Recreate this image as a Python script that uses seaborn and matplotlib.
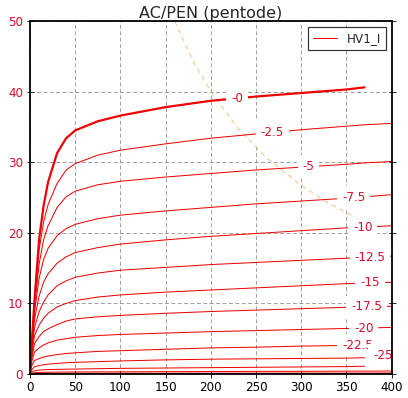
import numpy as np
import pandas as pd
import matplotlib
matplotlib.use("Agg")
import matplotlib.pyplot as plt
from matplotlib.lines import Line2D
import seaborn as sns

# plate voltage grid (V) shared by all curves
VA = [0, 2, 5, 10, 15, 20, 30, 40, 50, 75, 100, 150, 200, 250, 300, 350, 370, 400]
nan = np.nan

# plate current (mA) per grid voltage
IA_G0 = [0, 4.5, 10.5, 19, 23.8, 27.2, 31.3, 33.4, 34.5, 35.8, 36.6, 37.8, 38.7, 39.3, 39.8, 40.3, 40.6, nan]
IA_G2_5 = [0, 4.3, 10, 17.5, 21.5, 24, 27, 28.9, 29.8, 31, 31.7, 32.6, 33.4, 34, 34.6, 35.1, 35.3, 35.5]
IA_G5 = [0, 4, 9.5, 15.5, 19, 21, 23.6, 25.1, 25.9, 26.8, 27.3, 27.9, 28.4, 28.9, 29.3, 29.7, 29.9, 30.1]
IA_G7_5 = [0, 3.8, 8.8, 13.5, 16.2, 17.8, 19.6, 20.6, 21.2, 22.0, 22.5, 23.1, 23.6, 24.1, 24.5, 24.9, 25.1, 25.4]
IA_G10 = [0, 3.5, 7.8, 11, 13, 14.2, 15.7, 16.6, 17.2, 17.9, 18.4, 19.0, 19.5, 19.9, 20.3, 20.7, 20.8, 21.0]
IA_G12_5 = [0, 3.2, 6.6, 8.8, 10.2, 11.2, 12.5, 13.2, 13.7, 14.3, 14.7, 15.1, 15.5, 15.8, 16.1, 16.4, 16.5, 16.7]
IA_G15 = [0, 2.8, 5.4, 6.9, 7.9, 8.6, 9.5, 10.0, 10.4, 10.9, 11.2, 11.6, 11.9, 12.2, 12.5, 12.8, 12.9, 13.0]
IA_G17_5 = [0, 2.3, 4.3, 5.3, 6.0, 6.4, 7.0, 7.5, 7.8, 8.1, 8.3, 8.6, 8.85, 9.05, 9.25, 9.45, 9.5, 9.6]
IA_G20 = [0, 1.8, 3.1, 3.7, 4.1, 4.4, 4.8, 5.0, 5.2, 5.45, 5.6, 5.8, 6.0, 6.15, 6.3, 6.45, 6.5, 6.6]
IA_G22_5 = [0, 1.2, 1.9, 2.2, 2.4, 2.55, 2.75, 2.9, 3.0, 3.2, 3.3, 3.5, 3.7, 3.8, 3.95, 4.05, 4.1, 4.2]
IA_G25 = [0, 0.6, 1.0, 1.2, 1.3, 1.4, 1.5, 1.6, 1.65, 1.75, 1.85, 2.0, 2.1, 2.15, 2.2, 2.25, 2.3, nan]
IA_G27_5 = [0, 0.3, 0.45, 0.55, 0.6, 0.63, 0.66, 0.68, 0.7, 0.75, 0.8, 0.85, 0.9, 0.95, 1.0, 1.05, 1.1, nan]
IA_G30 = [0, 0.1, 0.18, 0.22, 0.24, 0.25, 0.27, 0.28, 0.29, 0.3, 0.31, 0.33, 0.35, 0.37, 0.38, 0.4, 0.4, 0.42]
IA_G32_5 = [0, 0.03, 0.06, 0.08, 0.08, 0.09, 0.09, 0.1, 0.1, 0.1, 0.11, 0.11, 0.12, 0.12, 0.13, 0.13, 0.13, 0.14]
IA_G35 = [0, 0.01, 0.02, 0.02, 0.02, 0.02, 0.02, 0.02, 0.02, 0.02, 0.02, 0.02, 0.03, 0.03, 0.03, 0.03, 0.03, 0.03]

CURVES = [
    ("-0", IA_G0), ("-2.5", IA_G2_5), ("-5", IA_G5), ("-7.5", IA_G7_5),
    ("-10", IA_G10), ("-12.5", IA_G12_5), ("-15", IA_G15), ("-17.5", IA_G17_5),
    ("-20", IA_G20), ("-22.5", IA_G22_5), ("-25", IA_G25), ("-27.5", IA_G27_5),
    ("-30", IA_G30), ("-32.5", IA_G32_5), ("-35", IA_G35),
]

# where each curve gets its inline label (plate voltage)
LABEL_VA = {"-0": 229, "-2.5": 268, "-5": 308, "-7.5": 358, "-10": 368,
            "-12.5": 376, "-15": 376, "-17.5": 372, "-20": 369,
            "-22.5": 362, "-25": 390}

# max plate dissipation curve
PMAX_VA = [160, 180, 200, 230, 260, 300, 330, 360]
PMAX_IA = [50, 44.4, 40, 34.8, 30.8, 26.7, 24.2, 22.2]

sns.set_style("white")
plt.rcParams["font.family"] = ["DejaVu Sans"]

fig = plt.figure(figsize=(408 / 72, 398 / 72), dpi=72)
ax = fig.add_axes([30 / 408, 24 / 398, 361.7 / 408, 353 / 398])

RED = "#ee0000"
TXT_RED = "#d8102c"

for name, ia in CURVES:
    df = pd.DataFrame({"Va": VA, "Ia": ia}).dropna()
    lw = 2.2 if name == "-0" else 1.0
    sns.lineplot(data=df, x="Va", y="Ia", ax=ax, color=RED, lw=lw,
                 sort=False, estimator=None, legend=False, zorder=3)

sns.lineplot(x=PMAX_VA, y=PMAX_IA, ax=ax, color="#f0b25e", lw=0.8,
             linestyle=(0, (6, 5)), sort=False, estimator=None, legend=False, zorder=2)

for name, ia in CURVES:
    if name not in LABEL_VA:
        continue
    df = pd.DataFrame({"Va": VA, "Ia": ia}).dropna()
    lx = LABEL_VA[name]
    ly = np.interp(lx, df["Va"], df["Ia"])
    if name == "-25":
        ly += 0.3
    ax.text(lx, ly, name, color=TXT_RED, fontsize=12, ha="center", va="center",
            zorder=5, bbox=dict(facecolor="white", edgecolor="none",
                                boxstyle="square,pad=0.4"))

ax.set_xlim(0, 400)
ax.set_ylim(0, 50)
ax.set_xticks(np.arange(0, 401, 50))
ax.set_yticks(np.arange(0, 51, 10))
ax.set_xlabel("")
ax.set_ylabel("")
ax.grid(True, color="#8c8c8c", lw=0.8, linestyle=(0, (5, 3)))
ax.set_axisbelow(True)
for sp in ax.spines.values():
    sp.set_color("black")
    sp.set_linewidth(1.8)
    sp.set_zorder(6)
ax.tick_params(axis="both", labelsize=12, direction="inout", length=7, width=1)
ax.tick_params(axis="y", left=True, right=True, labelcolor=TXT_RED)
ax.tick_params(axis="x", bottom=True, labelcolor="black")
ax.set_title("AC/PEN (pentode)", fontsize=16, pad=3)

handle = Line2D([], [], color=RED, lw=1.0)
leg = ax.legend([handle], ["HV1_I"], loc="upper right", fontsize=12,
                fancybox=False, frameon=True, handlelength=2.0,
                borderaxespad=0.5)
leg.get_frame().set_edgecolor("black")
leg.get_frame().set_linewidth(1.2)

fig.savefig("out.png", dpi=72)
